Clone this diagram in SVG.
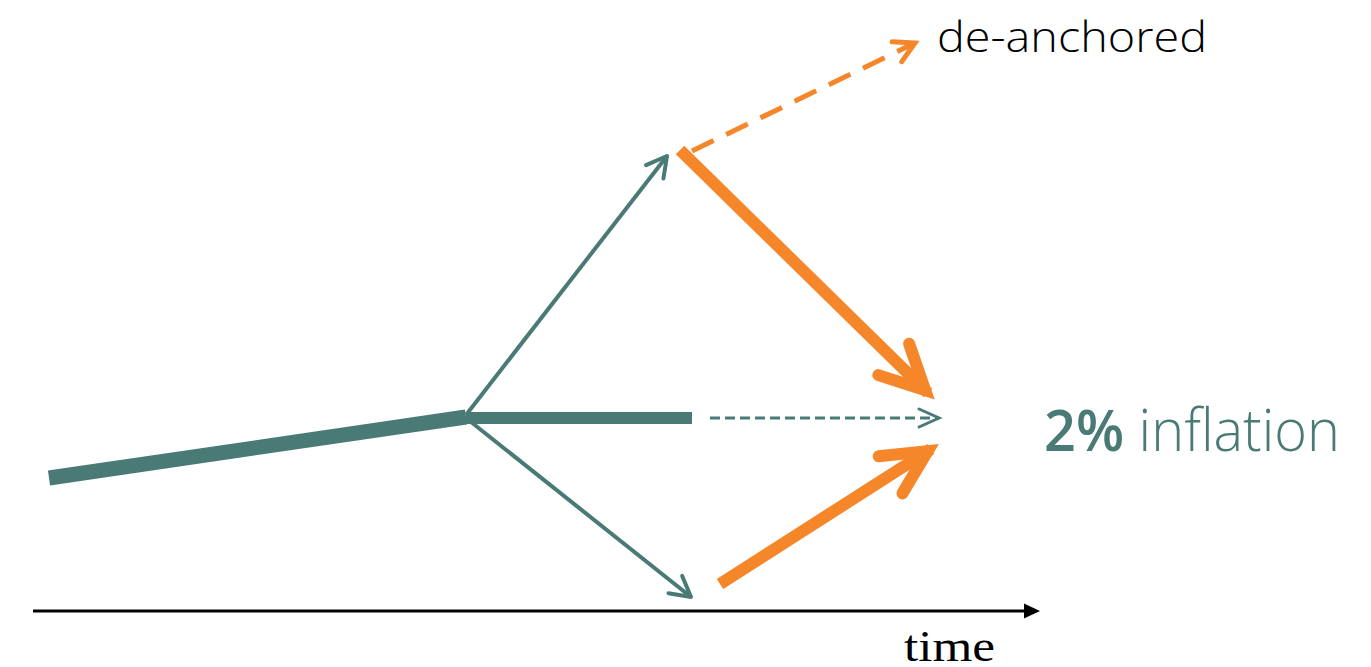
<svg xmlns="http://www.w3.org/2000/svg" width="1371" height="667" viewBox="0 0 1371 667">
<style>
.teal{stroke:#4A7A76;fill:none}
.orange{stroke:#F6862A;fill:none}
.lbl{font-family:"Open Sans","Liberation Sans",sans-serif;font-weight:300}
</style>
<defs>
<marker id="tOpen" viewBox="-60 -40 100 80" refX="0" refY="0" markerWidth="100" markerHeight="80" markerUnits="userSpaceOnUse" orient="auto" overflow="visible">
<path d="M-20,-11 L0,0 L-20,11" fill="none" stroke="#4A7A76" stroke-width="4" stroke-linecap="round" stroke-linejoin="round"/>
</marker>
<marker id="tDash" viewBox="-60 -40 100 80" refX="0" refY="0" markerWidth="100" markerHeight="80" markerUnits="userSpaceOnUse" orient="auto" overflow="visible">
<path d="M-20,-9 L0,0 L-20,9" fill="none" stroke="#4A7A76" stroke-width="3" stroke-linecap="round" stroke-linejoin="miter"/>
</marker>
<marker id="oDash" viewBox="-60 -40 100 80" refX="0" refY="0" markerWidth="100" markerHeight="80" markerUnits="userSpaceOnUse" orient="auto" overflow="visible">
<path d="M-20,-11 L0,0 L-20,11" fill="none" stroke="#F6862A" stroke-width="5" stroke-linecap="round" stroke-linejoin="miter"/>
</marker>
<marker id="oBig" viewBox="-60 -40 100 80" refX="0" refY="0" markerWidth="100" markerHeight="80" markerUnits="userSpaceOnUse" orient="auto" overflow="visible">
<path d="M-48,-22 L-4,0 L-48,22" fill="none" stroke="#F6862A" stroke-width="12" stroke-linecap="round" stroke-linejoin="miter"/>
</marker>
<marker id="axis" viewBox="-60 -40 100 80" refX="0" refY="0" markerWidth="100" markerHeight="80" markerUnits="userSpaceOnUse" orient="auto" overflow="visible">
<path d="M-1,-7.5 L15,0 L-1,7.5 Z" fill="#000"/>
</marker>
</defs>
<g id="connectors">
<line x1="49" y1="478" x2="466" y2="417" class="teal" stroke-width="15"/>
<line x1="466" y1="418" x2="692" y2="418" class="teal" stroke-width="12"/>
<line x1="710" y1="418" x2="939" y2="418" class="teal" stroke-width="3" stroke-dasharray="10,5" marker-end="url(#tDash)"/>
<line x1="466" y1="415" x2="667" y2="156" class="teal" stroke-width="4" marker-end="url(#tOpen)"/>
<line x1="466" y1="418" x2="691" y2="597" class="teal" stroke-width="4" marker-end="url(#tOpen)"/>
<line x1="680" y1="150" x2="928" y2="393" class="orange" stroke-width="12" marker-end="url(#oBig)"/>
<line x1="720" y1="584" x2="931" y2="449" class="orange" stroke-width="12" marker-end="url(#oBig)"/>
<line x1="692" y1="151" x2="915" y2="43" class="orange" stroke-width="5" stroke-dasharray="24,14" marker-end="url(#oDash)"/>
<line x1="33" y1="611" x2="1025" y2="611" stroke="#000" stroke-width="3" marker-end="url(#axis)"/>
</g>
<g id="label-deanchored">
<text x="937" y="52" class="lbl" font-size="42" fill="#000" textLength="270" lengthAdjust="spacingAndGlyphs">de-anchored</text>
</g>
<g id="label-inflation">
<text x="1044" y="451" class="lbl" font-size="58" fill="#4A7A76" textLength="296" lengthAdjust="spacingAndGlyphs"><tspan font-weight="600">2%</tspan> inflation</text>
</g>
<g id="label-time">
<text x="904" y="661" font-family="Liberation Serif,serif" font-size="44" fill="#000" textLength="91" lengthAdjust="spacingAndGlyphs">time</text>
</g>
</svg>
